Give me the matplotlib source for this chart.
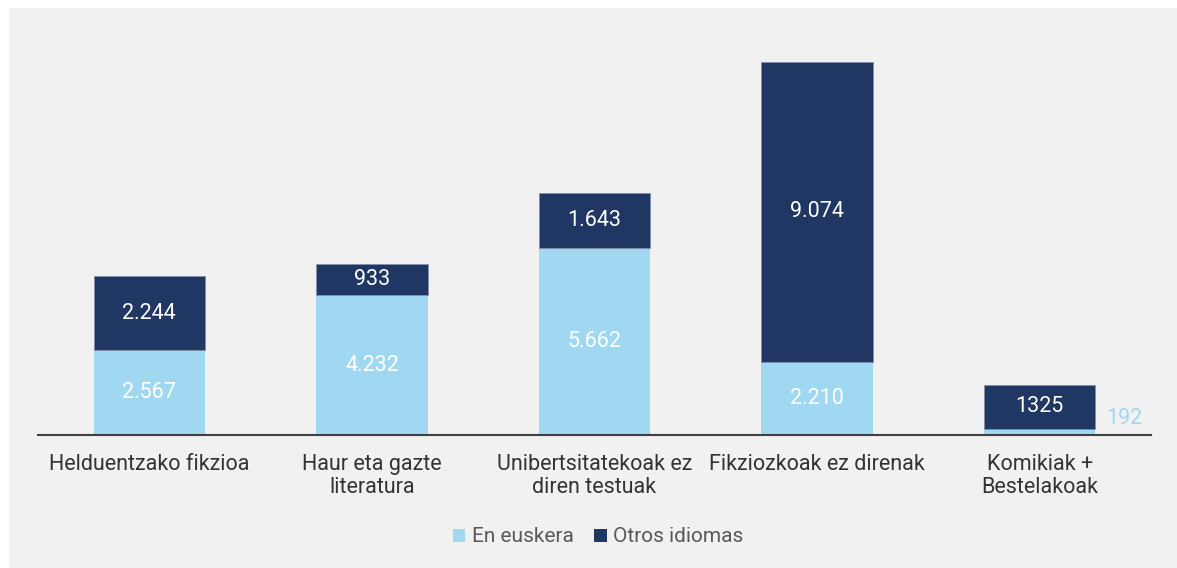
import matplotlib.pyplot as plt
import numpy as np
from matplotlib.patches import Rectangle, Patch

plt.rcParams['font.family'] = ['Roboto', 'DejaVu Sans']

categories = ['Helduentzako fikzioa', 'Haur eta gazte\nliteratura',
              'Unibertsitatekoak ez\ndiren testuak', 'Fikziozkoak ez direnak',
              'Komikiak +\nBestelakoak']
euskera = [2567, 4232, 5662, 2210, 192]
otros = [2244, 933, 1643, 9074, 1325]
euskera_labels = ['2.567', '4.232', '5.662', '2.210', '192']
otros_labels = ['2.244', '933', '1.643', '9.074', '1325']

light = '#9fd8f0'
dark = '#1f3762'

fig = plt.figure(figsize=(11.77, 5.68), dpi=100)
fig.patches.append(Rectangle((9 / 1177, 0), 1 - 9 / 1177, 1 - 8 / 568,
                             transform=fig.transFigure, facecolor='#f1f1f1',
                             edgecolor='none', zorder=-5))

ax = fig.add_axes([38 / 1177, (568 - 435) / 568, (1151 - 38) / 1177, (435 - 20) / 568])
ax.set_facecolor('none')
ax.set_zorder(2)

x = np.arange(len(categories))
w = 0.5
ax.bar(x, euskera, w, color=light, edgecolor='none', zorder=2)
ax.bar(x, otros, w, bottom=euskera, color=dark, edgecolor='#8090a8', linewidth=0.6, zorder=2)

for i in range(len(categories)):
    if i == 4:
        ax.text(i + w / 2 + 0.05, euskera[i] + 300, euskera_labels[i], ha='left', va='center',
                color=light, fontsize=15.5)
    else:
        ax.text(i, euskera[i] / 2, euskera_labels[i], ha='center', va='center',
                color='white', fontsize=15.5)
    ax.text(i, euskera[i] + otros[i] / 2, otros_labels[i], ha='center', va='center',
            color='white', fontsize=15.5)

ax.set_xlim(-0.5, 4.5)
ax.set_ylim(0, 12550)
ax.set_xticks(x)
ax.set_xticklabels(categories, fontsize=15.5, color='#333333', linespacing=1.1)
ax.tick_params(axis='x', length=0, pad=14)
ax.set_yticks([])
for s in ['top', 'right', 'left']:
    ax.spines[s].set_visible(False)
ax.spines['bottom'].set_color('#404040')
ax.spines['bottom'].set_linewidth(1.5)
ax.spines['bottom'].set_zorder(3)

handles = [Patch(facecolor=light, label='En euskera'),
           Patch(facecolor=dark, label='Otros idiomas')]
fig.legend(handles=handles, loc='center', bbox_to_anchor=(598 / 1177, 1 - 537 / 568),
           ncol=2, frameon=False, fontsize=15, labelcolor='#595959',
           handlelength=0.6, handleheight=0.6, handletextpad=0.3, columnspacing=1.0)

fig.savefig('out.png', dpi=100, facecolor='white')
